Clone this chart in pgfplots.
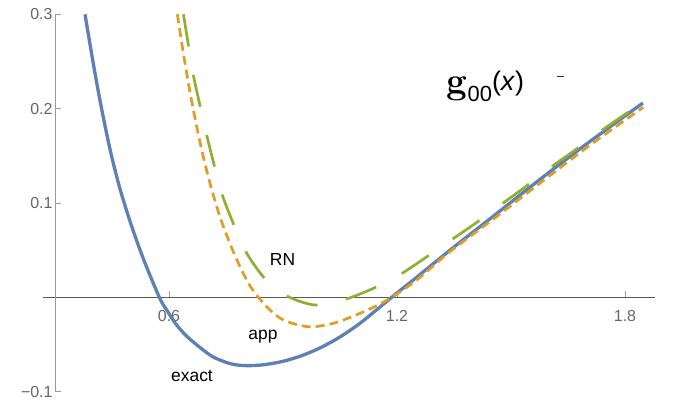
\documentclass[border=0pt]{standalone}
\usepackage{fontspec}
\newfontfamily\arial{Liberation Sans}
\usepackage{pgfplots}
\pgfplotsset{compat=1.18}
\definecolor{mblue}{rgb}{0.368417,0.506779,0.709798}
\definecolor{morange}{rgb}{0.880722,0.611041,0.142051}
\definecolor{mgreen}{rgb}{0.560181,0.691569,0.194885}
\begin{document}
\begin{tikzpicture}
\begin{axis}[
  x=380bp, y=944bp,
  xmin=0.3, xmax=1.879, ymin=-0.1, ymax=0.3,
  axis x line=middle, axis y line=left,
  x axis line style={-, color=black!65, line width=0.9bp},
  y axis line style={-, color=black!40, line width=0.9bp},
  clip mode=individual,
  xtick={0.6,1.2,1.8}, xticklabels={0.6,1.2,1.8},
  ytick={-0.1,0.1,0.2,0.3}, yticklabels={−0.1,0.1,0.2,0.3},
  minor tick num=0,
  tick align=inside,
  major tick length=6bp,
  tick style={color=black!40, line width=0.9bp},
  xticklabel style={font=\arial\fontsize{16}{18}\selectfont, text=black!60, anchor=north, yshift=-9bp},
  yticklabel style={font=\arial\fontsize{16}{18}\selectfont, text=black!60, anchor=east, xshift=1bp},
]
\addplot[mblue, line width=3.3bp, smooth, tension=0.5] coordinates {
(0.379,0.300) (0.400,0.2496) (0.421,0.2034) (0.445,0.1566) (0.470,0.1166)
(0.500,0.0776) (0.535,0.0384) (0.576,-0.001) (0.596,-0.0145) (0.616,-0.027)
(0.642,-0.0392) (0.668,-0.0485) (0.695,-0.0572) (0.721,-0.0640) (0.765,-0.0705)
(0.805,-0.0722) (0.850,-0.0712) (0.900,-0.0676) (0.950,-0.0615) (1.000,-0.0529)
(1.050,-0.0418) (1.100,-0.0281) (1.150,-0.0118) (1.200,0.0048) (1.252,0.0215)
(1.339,0.050) (1.45,0.085) (1.576,0.125) (1.70,0.163) (1.847,0.206)
};
\addplot[morange, line width=2.7bp, dash pattern=on 9bp off 5bp, smooth, tension=0.5] coordinates {
(0.622,0.300) (0.640,0.2532) (0.660,0.2072) (0.686,0.1565) (0.712,0.1149)
(0.739,0.0798) (0.774,0.0441) (0.813,0.0125) (0.857,-0.0097) (0.901,-0.0238)
(0.967,-0.031) (1.032,-0.0274) (1.103,-0.0167) (1.173,-0.003) (1.252,0.0185)
(1.339,0.0485) (1.45,0.082) (1.576,0.121) (1.70,0.159) (1.848,0.2015)
};
\addplot[mgreen, line width=2.7bp, dash pattern=on 32.5bp off 29bp, smooth, tension=0.5] coordinates {
(0.638,0.300) (0.651,0.2675) (0.664,0.2357) (0.682,0.2025) (0.699,0.1725)
(0.719,0.140) (0.739,0.110) (0.769,0.0786) (0.800,0.050) (0.848,0.022)
(0.905,0.0026) (0.984,-0.008) (1.059,-0.0026) (1.138,0.0097) (1.203,0.023)
(1.278,0.043) (1.339,0.060) (1.408,0.079) (1.469,0.097) (1.537,0.117)
(1.598,0.136) (1.668,0.156) (1.728,0.174) (1.800,0.194) (1.848,0.207)
};
\node[anchor=base, inner sep=0pt, font=\arial\fontsize{17.5}{19}\selectfont] at (axis cs:0.6605,-0.0892) {exact};
\node[anchor=base, inner sep=0pt, font=\arial\fontsize{17.5}{19}\selectfont] at (axis cs:0.8474,-0.045) {app};
\node[anchor=base, inner sep=0pt, font=\arial\fontsize{17.5}{19}\selectfont] at (axis cs:0.8987,0.0337) {RN};
\node[anchor=base west, inner sep=0pt] at (axis cs:1.3308,0.2163)
  {{\fontsize{37}{40}\selectfont\bfseries g}\raisebox{-8bp}{\arial\fontsize{22}{24}\selectfont 00}{\arial\fontsize{27}{29}\selectfont\raisebox{3bp}{(\textit{x})}}};
\draw[black!80, line width=1bp] (axis cs:1.621,0.2341) -- (axis cs:1.6395,0.2341);
\draw[black!65, line width=0.9bp] (axis cs:0.2684,0) -- (axis cs:0.3,0);
\coordinate (bl) at (axis cs:0.155263,-0.108581);
\coordinate (tr) at (axis cs:1.926316,0.315148);
\end{axis}
\pgfresetboundingbox
\useasboundingbox (bl) rectangle (tr);
\end{tikzpicture}
\end{document}
